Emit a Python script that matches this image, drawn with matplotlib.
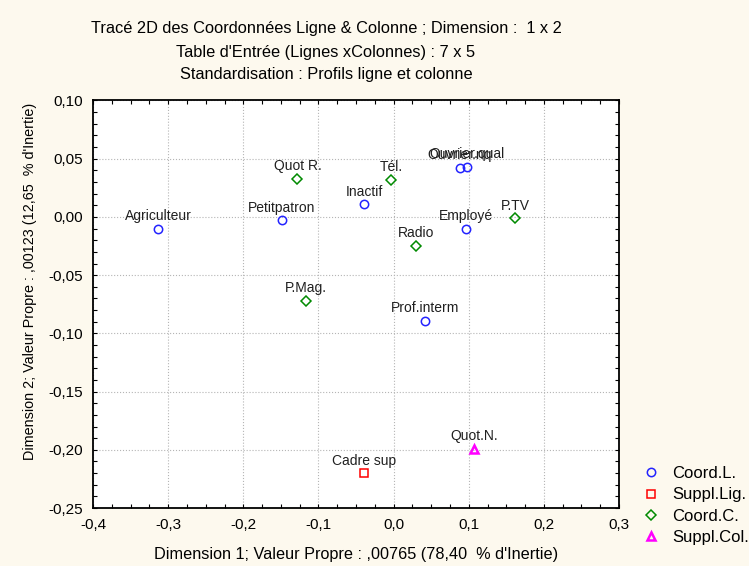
import matplotlib
matplotlib.use("Agg")
import matplotlib.pyplot as plt
from matplotlib.ticker import MultipleLocator, FuncFormatter
from matplotlib.lines import Line2D

plt.rcParams['font.family'] = ['Liberation Sans', 'DejaVu Sans']

# lignes actives
row_names = ["Agriculteur", "Petitpatron", "Inactif", "Ouvrier.nq", "Ouvrier.qual", "Employé", "Prof.interm"]
row_x = [-0.313, -0.149, -0.039, 0.088, 0.098, 0.096, 0.042]
row_y = [-0.010, -0.003, 0.011, 0.042, 0.043, -0.010, -0.089]

# ligne supplémentaire
supl_names = ["Cadre sup"]
supl_x = [-0.039]
supl_y = [-0.220]

# colonnes actives
col_names = ["Quot R.", "Tél.", "P.TV", "Radio", "P.Mag."]
col_x = [-0.128, -0.003, 0.162, 0.030, -0.117]
col_y = [0.033, 0.032, -0.001, -0.025, -0.072]

# colonne supplémentaire
supc_names = ["Quot.N."]
supc_x = [0.107]
supc_y = [-0.199]

W, H = 749, 566
fig = plt.figure(figsize=(W / 100, H / 100), dpi=100)
fig.patch.set_facecolor('#fdf9ee')
ax = fig.add_axes([93 / W, (H - 508) / H, 526 / W, 407.5 / H])
ax.set_facecolor('white')

series = [
    (row_x, row_y, row_names, 'o', '#2323ff', 'Coord.L.', 1.1),
    (supl_x, supl_y, supl_names, 's', '#ff0000', 'Suppl.Lig.', 1.1),
    (col_x, col_y, col_names, 'D', '#008a00', 'Coord.C.', 1.1),
    (supc_x, supc_y, supc_names, '^', '#ff00ff', 'Suppl.Col.', 1.8),
]
handles = []
for xs, ys, names, mk, c, lab, lw in series:
    ms = 5 if mk == 'D' else 6
    ax.plot(xs, ys, ls='none', marker=mk, ms=ms, mfc='none', mec=c, mew=lw, zorder=3)
    for x, y, n in zip(xs, ys, names):
        ax.annotate(n, (x, y), xytext=(0, 4), textcoords='offset points',
                    ha='center', va='bottom', fontsize=10, color='#202020')
    handles.append(Line2D([], [], ls='none', marker=mk, ms=ms, mfc='none', mec=c, mew=lw, label=lab))

ax.set_xlim(-0.4, 0.3)
ax.set_ylim(-0.25, 0.10)
ax.xaxis.set_major_locator(MultipleLocator(0.1))
ax.xaxis.set_minor_locator(MultipleLocator(0.025))
ax.yaxis.set_major_locator(MultipleLocator(0.05))
ax.yaxis.set_minor_locator(MultipleLocator(0.01))
ax.xaxis.set_major_formatter(FuncFormatter(lambda v, p: f"{v:.1f}".replace('.', ',').replace('-0,0', '0,0')))
ax.yaxis.set_major_formatter(FuncFormatter(lambda v, p: f"{v:.2f}".replace('.', ',').replace('-0,00', '0,00')))
ax.tick_params(which='both', direction='in', top=True, right=True, length=3, width=0.8, labelsize=11)
ax.tick_params(axis='x', pad=7)
ax.tick_params(axis='y', pad=7)
ax.grid(True, which='major', ls=':', color='#b5b5b5', lw=0.8)
for s in ax.spines.values():
    s.set_linewidth(1.3)
    s.set_color('black')

fig.legend(handles=handles, loc='upper left', bbox_to_anchor=(643 / W, 1 - 466 / H),
           frameon=False, fontsize=12, handlelength=1.0, handletextpad=0.75,
           labelspacing=0.38, borderpad=0, borderaxespad=0)

titles = ["Tracé 2D des Coordonnées Ligne & Colonne ; Dimension :  1 x 2",
          "Table d'Entrée (Lignes xColonnes) : 7 x 5",
          "Standardisation : Profils ligne et colonne"]
for t, yy in zip(titles, [29, 53, 74]):
    fig.text(326 / W, 1 - yy / H, t, ha='center', va='center', fontsize=11.8)

fig.text(356 / W, 1 - 555 / H, "Dimension 1; Valeur Propre : ,00765 (78,40  % d'Inertie)",
         ha='center', va='center', fontsize=11.7)
fig.text(30 / W, 1 - 281 / H, "Dimension 2; Valeur Propre : ,00123 (12,65  % d'Inertie)",
         ha='center', va='center', rotation=90, fontsize=10.4)

fig.savefig("out.png", dpi=100, facecolor=fig.get_facecolor())
